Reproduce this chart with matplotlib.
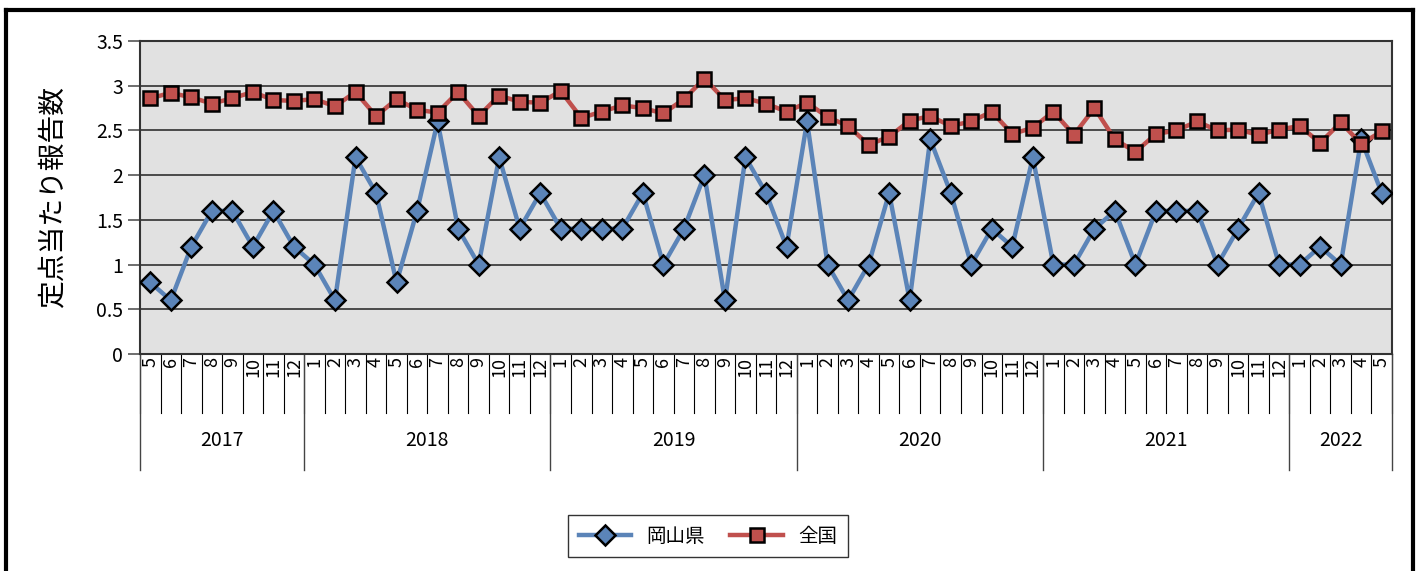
# 定点当たり報告数: 岡山県 vs 全国 (2017/5 - 2022/5)

import numpy as np
import matplotlib
matplotlib.use('Agg')
from matplotlib import pyplot as plt
from matplotlib.lines import Line2D
from matplotlib.transforms import blended_transform_factory

plt.rcParams['font.family'] = ['Liberation Sans Narrow', 'Noto Sans CJK JP', 'DejaVu Sans']

years = ['2017', '2018', '2019', '2020', '2021', '2022']
months_per_year = [list(range(5, 13)), list(range(1, 13)), list(range(1, 13)),
                   list(range(1, 13)), list(range(1, 13)), list(range(1, 6))]

okayama = [0.8, 0.6, 1.2, 1.6, 1.6, 1.2, 1.6, 1.2,
           1.0, 0.6, 2.2, 1.8, 0.8, 1.6, 2.6, 1.4, 1.0, 2.2, 1.4, 1.8,
           1.4, 1.4, 1.4, 1.4, 1.8, 1.0, 1.4, 2.0, 0.6, 2.2, 1.8, 1.2,
           2.6, 1.0, 0.6, 1.0, 1.8, 0.6, 2.4, 1.8, 1.0, 1.4, 1.2, 2.2,
           1.0, 1.0, 1.4, 1.6, 1.0, 1.6, 1.6, 1.6, 1.0, 1.4, 1.8, 1.0,
           1.0, 1.2, 1.0, 2.4, 1.8]

zenkoku = [2.86, 2.92, 2.87, 2.80, 2.86, 2.93, 2.84, 2.83,
           2.85, 2.77, 2.93, 2.66, 2.85, 2.73, 2.70, 2.93, 2.66, 2.89, 2.82, 2.81,
           2.94, 2.64, 2.71, 2.78, 2.75, 2.69, 2.85, 3.08, 2.84, 2.86, 2.80, 2.71,
           2.81, 2.65, 2.55, 2.34, 2.43, 2.61, 2.66, 2.55, 2.60, 2.71, 2.46, 2.53,
           2.71, 2.45, 2.75, 2.40, 2.26, 2.46, 2.50, 2.60, 2.50, 2.51, 2.45, 2.51,
           2.55, 2.36, 2.59, 2.35, 2.49]

months = [m for ms in months_per_year for m in ms]
x = np.arange(len(months))

W, H = 1423, 571
fig = plt.figure(figsize=(W / 100, H / 100), dpi=100)
ax = fig.add_axes([140 / W, 1 - 354 / H, 1252 / W, 313 / H])
ax.set_facecolor('#e1e1e1')

ax.plot(x, okayama, color='#5b84b8', lw=3.2, marker='D', ms=10,
        mfc='#5b84b8', mec='black', mew=1.8, label='岡山県', zorder=3)
ax.plot(x, zenkoku, color='#c0504d', lw=3.2, marker='s', ms=10,
        mfc='#c0504d', mec='black', mew=1.8, label='全国', zorder=3)

ax.set_xlim(-0.5, len(months) - 0.5)
ax.set_ylim(0, 3.5)
ax.set_yticks([0, 0.5, 1, 1.5, 2, 2.5, 3, 3.5])
ax.set_yticklabels(['0', '0.5', '1', '1.5', '2', '2.5', '3', '3.5'])
ax.yaxis.grid(True, color='#303030', lw=1.2)
ax.set_axisbelow(True)
ax.tick_params(axis='y', length=9, width=1.2, color='#555555', labelsize=14, pad=3)
ax.set_xticks([])
for s in ['top', 'right', 'left', 'bottom']:
    ax.spines[s].set_color('#333333')
    ax.spines[s].set_linewidth(1.5)

ax.set_ylabel('定点当たり報告数', family=['Noto Sans CJK JP'], size=20)
ax.yaxis.set_label_coords(-72 / 1252, 0.5)

# category axis: months row + years row
trans = blended_transform_factory(ax.transData, ax.transAxes)
ph = 313.0
def ay(py):
    return (354 - py) / ph

for xi, m in zip(x, months):
    ax.text(xi, ay(357), str(m), transform=trans, rotation=90, ha='center', va='top',
            size=13, clip_on=False)

for b in np.arange(-0.5, len(months), 1.0):
    ax.add_line(Line2D([b, b], [ay(354), ay(413)], transform=trans, color='black',
                       lw=0.8, clip_on=False))

start = 0
bounds = [-0.5]
for yr, ms in zip(years, months_per_year):
    end = start + len(ms)
    ax.text((start + end - 1) / 2, ay(441), yr, transform=trans, ha='center', va='center',
            size=14, clip_on=False)
    bounds.append(end - 0.5)
    start = end
for b in bounds:
    ax.add_line(Line2D([b, b], [ay(354), ay(470)], transform=trans, color='#444444',
                       lw=1.0, clip_on=False))

leg = fig.legend(loc='center', bbox_to_anchor=(708 / W, 1 - 536 / H), ncol=2,
                 frameon=True, fancybox=False, edgecolor='black',
                 handlelength=2.7, handletextpad=0.8, columnspacing=1.3, borderpad=0.55,
                 prop={'family': ['Noto Sans CJK JP'], 'size': 14})
leg.get_frame().set_linewidth(1.0)

# outer border
for xs, ys in [([6, 1413], [10, 10]), ([1413, 1413], [10, 571]), ([6, 6], [10, 571])]:
    fig.add_artist(Line2D([v / W for v in xs], [1 - v / H for v in ys], color='black', lw=3))

fig.savefig('out.png', dpi=100)
